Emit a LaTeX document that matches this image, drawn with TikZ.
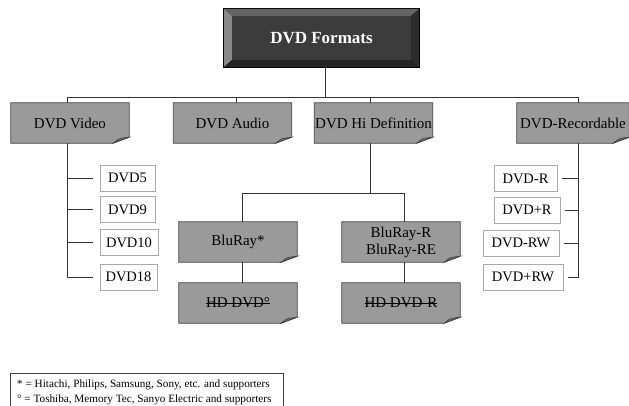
\documentclass[tikz,border=0pt]{standalone}
\usepackage{fontspec}
\setmainfont{Liberation Serif}
\usetikzlibrary{backgrounds}
\definecolor{boxgray}{HTML}{9A9A9A}
\definecolor{foldgray}{HTML}{6E6E6E}
\definecolor{edgegray}{HTML}{404040}
\definecolor{linegray}{HTML}{333333}
\definecolor{wedge}{HTML}{AAAAAA}
\definecolor{bvtop}{HTML}{646464}
\definecolor{bvleft}{HTML}{8A8A8A}
\definecolor{bvbot}{HTML}{242424}
\definecolor{bvright}{HTML}{2C2C2C}
\definecolor{bvface}{HTML}{3C3C3C}
\newsavebox\strkbox
\newcommand\strk[1]{\sbox\strkbox{#1}\rlap{\rule[0.3em]{\wd\strkbox}{0.7pt}}\usebox\strkbox}
\tikzset{
  graybox/.style={minimum width=118pt, minimum height=40pt, inner sep=0pt, align=center,
    font=\fontsize{15}{17}\selectfont},
  whitebox/.style={draw=wedge, fill=white, line width=0.8pt, minimum height=26pt, inner sep=0pt,
    font=\fontsize{14.5}{16}\selectfont},
  conn/.style={draw=linegray, line width=0.9pt},
}
\newcommand\dogear[1]{%
  \filldraw[fill=boxgray, draw=edgegray, line width=0.7pt] (#1.north west) -- (#1.north east) -- ([yshift=6pt]#1.south east) -- ([xshift=-16pt]#1.south east) -- (#1.south west) -- cycle;
  \filldraw[fill=foldgray, draw=edgegray, line width=0.6pt] ([yshift=6pt]#1.south east) .. controls ([xshift=-8pt,yshift=5pt]#1.south east) .. ([xshift=-11pt,yshift=4pt]#1.south east) -- ([xshift=-16pt]#1.south east) -- cycle;}
\begin{document}
\begin{tikzpicture}[x=1pt,y=-1pt]
\useasboundingbox (0,0) rectangle (629,406);
% top bevel box
\node[minimum width=197pt, minimum height=60pt, inner sep=0pt, text=white,
  font=\bfseries\fontsize{17}{19}\selectfont] (formats) at (321.5,38) {DVD Formats};
\begin{scope}[on background layer]
  \fill[black] (223,8) rectangle (420,68);
  \fill[bvtop] (224,9) -- (419,9) -- (411,16) -- (232,16) -- cycle;
  \fill[bvleft] (224,9) -- (232,16) -- (232,60) -- (224,67) -- cycle;
  \fill[bvbot] (224,67) -- (232,60) -- (411,60) -- (419,67) -- cycle;
  \fill[bvright] (419,9) -- (419,67) -- (411,60) -- (411,16) -- cycle;
  \fill[bvface] (232,16) rectangle (411,60);
\end{scope}
% level 1
\node[graybox] (video) at (70,123) {DVD Video};
\node[graybox] (audio) at (232.5,123) {DVD Audio};
\node[graybox] (hidef) at (373.5,123) {DVD Hi Definition};
\node[graybox, minimum width=112pt] (rec) at (573,123) {DVD-Recordable};
% hidef children
\node[graybox] (bluray) at (238,242) {BluRay*};
\node[graybox] (blurayr) at (401,242) {BluRay-R\\BluRay-RE};
\node[graybox] (hddvd) at (238,303) {\strk{HD DVD°}};
\node[graybox] (hddvdr) at (401,303) {\strk{HD DVD-R}};
\begin{scope}[on background layer]
  \dogear{video}\dogear{audio}\dogear{hidef}\dogear{rec}
  \dogear{bluray}\dogear{blurayr}\dogear{hddvd}\dogear{hddvdr}
\end{scope}
% white boxes left
\node[whitebox, minimum width=55pt] (d5) at (127.5,178) {DVD5};
\node[whitebox, minimum width=55pt] (d9) at (127.5,209.5) {DVD9};
\node[whitebox, minimum width=58pt] (d10) at (129,242.5) {DVD10};
\node[whitebox, minimum width=57pt] (d18) at (128.5,277) {DVD18};
% white boxes right
\node[whitebox, minimum width=63pt] (dr) at (525.5,178.5) {DVD-R};
\node[whitebox, minimum width=66pt] (dpr) at (527,210) {DVD+R};
\node[whitebox, minimum width=76pt] (drw) at (521,243) {DVD-RW};
\node[whitebox, minimum width=80pt] (dprw) at (523,277) {DVD+RW};
% connectors
\coordinate (bus) at (325,97);
\draw[conn] (formats.south -| bus) -- (bus);
\draw[conn] (video.north -| 67,0) -- (67,97) -- (578,97) -- (rec.north -| 578,0);
\draw[conn] (audio.north -| 236,0) -- (236,97);
\draw[conn] (hidef.north -| 370,0) -- (370,97);
\draw[conn] (video.south -| 67,0) -- (67,277) -- ([xshift=-7pt]d18.west);
\draw[conn] (67,178) -- ([xshift=-7pt]d5.west);
\draw[conn] (67,209.5) -- ([xshift=-7pt]d9.west);
\draw[conn] (67,242.5) -- ([xshift=-7pt]d10.west);
\draw[conn] (rec.south -| 578,0) -- (578,277) -- ([xshift=5pt]dprw.east);
\draw[conn] (578,178.5) -- ([xshift=5pt]dr.east);
\draw[conn] (578,210) -- ([xshift=5pt]dpr.east);
\draw[conn] (578,243) -- ([xshift=5pt]drw.east);
\draw[conn] (hidef.south -| 370,0) -- (370,193);
\draw[conn] (bluray.north -| 242,0) -- (242,193) -- (404,193) -- (blurayr.north -| 404,0);
\draw[conn] (bluray.south -| 242,0) -- (hddvd.north -| 242,0);
\draw[conn] (blurayr.south -| 404,0) -- (hddvdr.north -| 404,0);
% legend
\node[anchor=north west, inner sep=0pt, align=left, font=\fontsize{11.2}{15}\selectfont] (legend) at (17,379.5)
  {* = Hitachi, Philips, Samsung, Sony, etc. and supporters\\
   ° = Toshiba, Memory Tec, Sanyo Electric and supporters};
\draw[draw=edgegray, line width=0.8pt] (10,412) -- (10,373) -- (283,373) -- (283,412);
\end{tikzpicture}
\end{document}
